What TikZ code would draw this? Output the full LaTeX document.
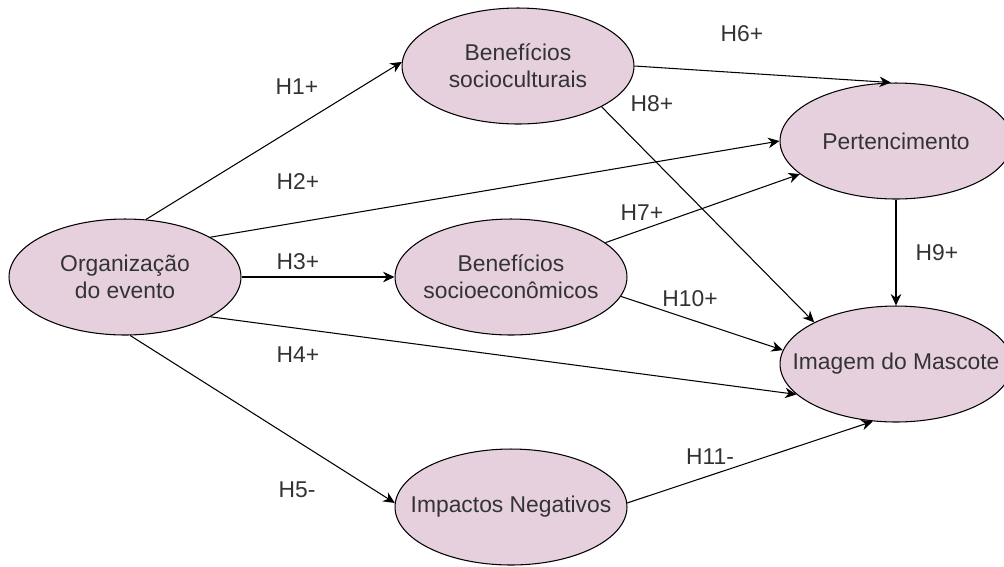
\documentclass[tikz,border=0pt]{standalone}
\usepackage{fontspec}
\setmainfont{Liberation Sans}
\usetikzlibrary{arrows.meta,shapes.geometric}
\definecolor{mauvefill}{HTML}{E6D0DE}
\definecolor{textgray}{HTML}{333333}

\begin{document}
\begin{tikzpicture}[x=0.02cm, y=-0.02cm,
    construct/.style={ellipse, draw=black, fill=mauvefill, line width=0.6pt,
                      minimum width=4.64cm, minimum height=2.32cm,
                      inner xsep=-0.7cm, inner ysep=0pt,
                      align=center, text=textgray, font=\fontsize{13}{15.5}\selectfont},
    hyp/.style={text=textgray, font=\fontsize{13}{15.5}\selectfont},
    arrow/.style={-{Stealth[length=6.5pt,width=6pt]}, line width=0.6pt}]

\useasboundingbox (0,0) rectangle (1004,566);

% Constructs
\node[construct] (org) at (125,277) {Organização\\do evento};
\node[construct] (bsc) at (518,66) {Benefícios\\socioculturais};
\node[construct] (bse) at (511,277) {Benefícios\\socioeconômicos};
\node[construct] (imp) at (511,507) {Impactos Negativos};
\node[construct] (pert) at (896,141) {Pertencimento};
\node[construct] (img) at (896,364) {Imagem do Mascote};

% Paths
\draw[arrow] (org.70) -- (bsc.178);
\draw[arrow] (org.25) -- (pert.180);
\draw[arrow] (org.0) -- (bse.180);
\draw[arrow] (org.-25) -- (img.197);
\draw[arrow] (org.-85) -- (imp.178);
\draw[arrow] (bsc.0) -- (pert.95);
\draw[arrow] (bse.20) -- (pert.199);
\draw[arrow] (bsc.-26) -- (img.153);
\draw[arrow] (pert.270) -- (img.90);
\draw[arrow] (bse.-10) -- (img.173);
\draw[arrow] (imp.2) -- (img.248);

% Hypotheses
\node[hyp] (h1) at (297,87) {H1+};
\node[hyp] (h2) at (298,182) {H2+};
\node[hyp] (h3) at (298,262) {H3+};
\node[hyp] (h4) at (298,355) {H4+};
\node[hyp] (h5) at (297,490) {H5-};
\node[hyp] (h6) at (742,34) {H6+};
\node[hyp] (h7) at (642,213) {H7+};
\node[hyp] (h8) at (652,104) {H8+};
\node[hyp] (h9) at (937,253) {H9+};
\node[hyp] (h10) at (690,299) {H10+};
\node[hyp] (h11) at (710,457) {H11-};
\end{tikzpicture}
\end{document}
